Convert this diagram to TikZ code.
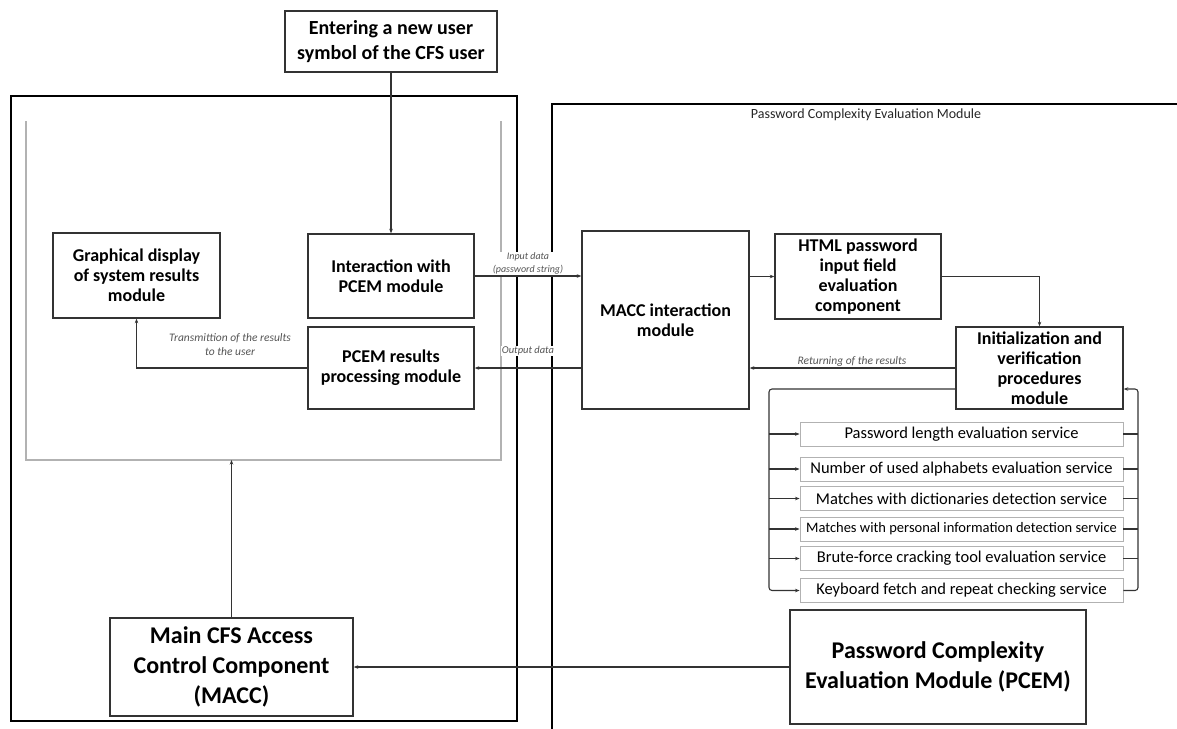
\documentclass[tikz,border=0pt]{standalone}
\usepackage{fontspec}
\setmainfont{Carlito}
\usetikzlibrary{arrows.meta, positioning, calc}
\definecolor{lineGray}{HTML}{333333}
\definecolor{frameGray}{HTML}{B2B2B2}
\definecolor{labelGray}{HTML}{555555}
\tikzset{
    box_std/.style={
        rectangle, draw=lineGray, line width=1.4pt, fill=white,
        align=center, inner sep=0pt, font=\fontsize{18}{20}\selectfont\bfseries
    },
    box_big/.style={
        box_std, font=\fontsize{24}{30}\selectfont\bfseries
    },
    box_svc/.style={
        rectangle, draw=frameGray, line width=0.9pt, fill=white,
        minimum width=323pt, minimum height=24pt, inner sep=0pt,
        font=\fontsize{16.5}{18}\selectfont
    },
    frame_thick/.style={draw=black, line width=2.6pt},
    frame_gray/.style={draw=frameGray, line width=1.6pt},
    conn_arrow/.style={-{Stealth[length=4.5pt,width=3.5pt]}, draw=lineGray, line width=1.1pt},
    conn_line/.style={draw=lineGray, line width=1.1pt},
    lbl/.style={
        font=\fontsize{11.5}{14}\selectfont\itshape, text=labelGray,
        align=center, inner sep=1pt
    }
}

\begin{document}
\begin{tikzpicture}[x=1pt, y=-1pt]
    \useasboundingbox (0,0) rectangle (1177,728);

    % frames
    \draw[frame_thick] (11,96) rectangle (517,721);
    \draw[frame_thick] (1180,104) -- (552,104) -- (552,730);
    \draw[frame_gray] (26,121) -- (26,460) -- (501,460) -- (501,121);
    \node[font=\fontsize{14}{16}\selectfont, text=black!85] (pcem_title) at (866,115) {Password Complexity Evaluation Module};

    % left part
    \node[box_std, font=\fontsize{20}{25}\selectfont\bfseries, minimum width=212pt, minimum height=61pt] (enter) at (391,41.5) {Entering a new user\\symbol of the CFS user};
    \node[box_std, minimum width=167pt, minimum height=85pt] (grdisp) at (136.5,275.5) {Graphical display\\of system results\\module};
    \node[box_std, minimum width=166pt, minimum height=84pt] (interact) at (391,276) {Interaction with\\PCEM module};
    \node[box_std, minimum width=166pt, minimum height=82pt] (pcemres) at (391,368) {PCEM results\\processing module};
    \node[box_big, minimum width=243pt, minimum height=98pt] (maccmain) at (231.5,667) {Main CFS Access\\Control Component\\(MACC)};

    % right part
    \node[box_std, minimum width=167pt, minimum height=178pt] (maccint) at (665.5,320) {MACC interaction\\module};
    \node[box_std, minimum width=166pt, minimum height=85pt] (html) at (858,276.5) {HTML password\\input field\\evaluation\\component};
    \node[box_std, minimum width=167pt, minimum height=82pt] (init) at (1039.5,368) {Initialization and\\verification\\procedures\\module};
    \node[box_big, minimum width=296pt, minimum height=114pt] (pcem) at (938,667) {Password Complexity\\Evaluation Module (PCEM)};

    % services
    \node[box_svc] (svc_len) at (961.5,434) {Password length evaluation service};
    \node[box_svc] (svc_alpha) at (961.5,469) {Number of used alphabets evaluation service};
    \node[box_svc] (svc_dict) at (961.5,498.5) {Matches with dictionaries detection service};
    \node[box_svc, font=\fontsize{14.5}{16}\selectfont] (svc_pers) at (961.5,529) {Matches with personal information detection service};
    \node[box_svc] (svc_brute) at (961.5,558.5) {Brute-force cracking tool evaluation service};
    \node[box_svc] (svc_kbd) at (961.5,590.5) {Keyboard fetch and repeat checking service};

    \coordinate (feed_l) at (769,389);
    \coordinate (feed_r) at (1138,389);
    \coordinate (frame_bot) at (0,460);

    % connectors
    \draw[conn_arrow] (enter.south) -- (interact.north);
    \draw[conn_arrow] (interact.east) -- (interact.east -| maccint.west);
    \draw[conn_arrow] (maccint.west |- pcemres.east) -- (pcemres.east);
    \draw[conn_arrow] (pcemres.west) -| (grdisp.south);
    \draw[conn_arrow] (maccint.east |- html.west) -- (html.west);
    \draw[conn_arrow] (html.east) -| (init.north);
    \draw[conn_arrow] (init.west) -- (init.west -| maccint.east);
    \draw[conn_arrow] (maccmain.north) -- (maccmain.north |- frame_bot);
    \draw[conn_arrow] (pcem.west) -- (maccmain.east);

    \draw[conn_arrow, rounded corners=3pt] ([yshift=-21pt]init.west) -- (feed_l) -- (feed_l |- svc_kbd.west) -- (svc_kbd.west);
    \foreach \s in {svc_len,svc_alpha,svc_dict,svc_pers,svc_brute}
        \draw[conn_arrow] (feed_l |- \s.west) -- (\s.west);
    \foreach \s in {svc_len,svc_alpha,svc_dict,svc_pers,svc_brute}
        \draw[conn_line] (\s.east) -- (feed_r |- \s.east);
    \draw[conn_arrow, rounded corners=3pt] (svc_kbd.east) -- (feed_r |- svc_kbd.east) -- (feed_r) -- ([yshift=-21pt]init.east);

    % labels
    \node[lbl] (lbl_trans) at (230,345) {Transmittion of the results\\to the user};
    \node[lbl, font=\fontsize{10}{13}\selectfont\itshape, fill=white] (lbl_input) at (528,263.5) {Input data\\(password string)};
    \node[lbl, font=\fontsize{10.5}{13}\selectfont\itshape, fill=white] (lbl_output) at (528,351) {Output data};
    \node[lbl] (lbl_return) at (852,361) {Returning of the results};
\end{tikzpicture}
\end{document}
